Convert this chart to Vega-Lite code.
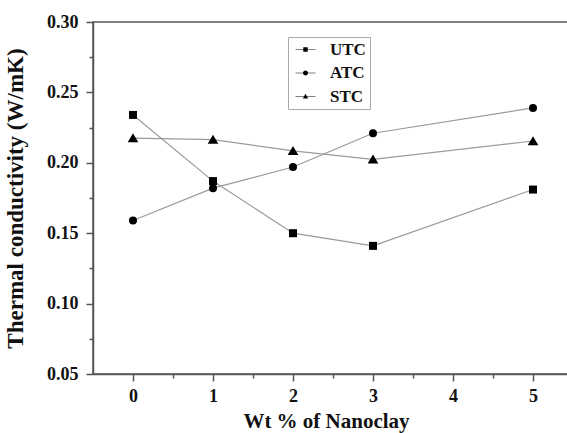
{
  "$schema": "https://vega.github.io/schema/vega-lite/v6.json",
  "width": 480,
  "height": 352,
  "autosize": {"type": "none"},
  "padding": {"left": 93, "top": 22, "right": 0, "bottom": 59},
  "background": "white",
  "config": {
    "font": "Liberation Serif",
    "view": {"stroke": "#555", "strokeWidth": 1.5},
    "axis": {
      "grid": false,
      "domainColor": "#555",
      "domainWidth": 1.5,
      "tickColor": "#555",
      "tickWidth": 1.5,
      "labelFont": "Liberation Serif",
      "labelFontWeight": "bold",
      "labelFontSize": 18,
      "labelColor": "#111",
      "titleFont": "Liberation Serif",
      "titleFontWeight": "bold",
      "titleColor": "#111",
      "labelOverlap": false,
      "labelFlush": false
    }
  },
  "datasets": {
    "tc": [
      {"wt": 0, "k": 0.234, "series": "UTC"},
      {"wt": 1, "k": 0.187, "series": "UTC"},
      {"wt": 2, "k": 0.150, "series": "UTC"},
      {"wt": 3, "k": 0.141, "series": "UTC"},
      {"wt": 5, "k": 0.181, "series": "UTC"},
      {"wt": 0, "k": 0.159, "series": "ATC"},
      {"wt": 1, "k": 0.182, "series": "ATC"},
      {"wt": 2, "k": 0.197, "series": "ATC"},
      {"wt": 3, "k": 0.221, "series": "ATC"},
      {"wt": 5, "k": 0.239, "series": "ATC"},
      {"wt": 0, "k": 0.2175, "series": "STC"},
      {"wt": 1, "k": 0.2165, "series": "STC"},
      {"wt": 2, "k": 0.2085, "series": "STC"},
      {"wt": 3, "k": 0.2025, "series": "STC"},
      {"wt": 5, "k": 0.2155, "series": "STC"}
    ]
  },
  "data": {"name": "tc"},
  "encoding": {
    "x": {
      "field": "wt",
      "type": "quantitative",
      "scale": {"domain": [-0.5, 5.5], "nice": false, "zero": false},
      "axis": {
        "title": "Wt % of Nanoclay",
        "titleFontSize": 21,
        "titlePadding": 5,
        "titleX": 233,
        "values": [0, 0.5, 1, 1.5, 2, 2.5, 3, 3.5, 4, 4.5, 5, 5.5],
        "labelExpr": "datum.value % 1 === 0 ? format(datum.value, 'd') : ''",
        "tickSize": {"condition": {"test": "datum.value % 1 !== 0", "value": 4}, "value": 7},
        "labelPadding": 6
      }
    },
    "y": {
      "field": "k",
      "type": "quantitative",
      "scale": {"domain": [0.05, 0.3], "nice": false, "zero": false},
      "axis": {
        "title": "Thermal conductivity (W/mK)",
        "titleFontSize": 23,
        "titlePadding": 19,
        "values": [0.05, 0.075, 0.1, 0.125, 0.15, 0.175, 0.2, 0.225, 0.25, 0.275, 0.3],
        "labelExpr": "abs(datum.value * 20 - round(datum.value * 20)) < 0.01 ? format(datum.value, '.2f') : ''",
        "tickSize": {"condition": {"test": "abs(datum.value * 20 - round(datum.value * 20)) > 0.01", "value": 4}, "value": 7},
        "labelPadding": 8
      }
    }
  },
  "layer": [
    {
      "mark": {"type": "line", "color": "#9a9a9a", "strokeWidth": 1.2},
      "encoding": {"detail": {"field": "series"}}
    },
    {
      "mark": {"type": "point", "filled": true, "color": "black", "opacity": 1, "size": 64},
      "encoding": {
        "shape": {
          "field": "series",
          "type": "nominal",
          "scale": {"domain": ["UTC", "ATC", "STC"], "range": ["square", "circle", "M0,-1.2L1.33,1.05L-1.33,1.05Z"]},
          "legend": null
        }
      }
    },
    {
      "transform": [{"filter": "false"}],
      "mark": {"type": "point", "filled": true, "color": "black", "opacity": 1, "size": 256},
      "encoding": {
        "shape": {
          "field": "series",
          "type": "nominal",
          "scale": {
            "domain": ["UTC", "ATC", "STC"],
            "range": [
              "M-1,-0.07H3V0.07H-1Z M0.56,-0.44H1.44V0.44H0.56Z",
              "M-1,-0.07H3V0.07H-1Z M0.5,0A0.5,0.5 0 1 1 1.5,0A0.5,0.5 0 1 1 0.5,0Z",
              "M-1,-0.07H3V0.07H-1Z M1,-0.55L1.52,0.38L0.48,0.38Z"
            ]
          },
          "legend": {
            "title": null,
            "orient": "none",
            "legendX": 195,
            "legendY": 15,
            "padding": 4,
            "strokeColor": "#aaa",
            "labelFont": "Liberation Serif",
            "labelFontWeight": "bold",
            "labelFontSize": 17,
            "labelColor": "#111",
            "labelOffset": 21,
            "rowPadding": 5.5,
            "symbolStrokeWidth": 0
          }
        }
      }
    }
  ],
  "resolve": {"scale": {"shape": "independent"}}
}
